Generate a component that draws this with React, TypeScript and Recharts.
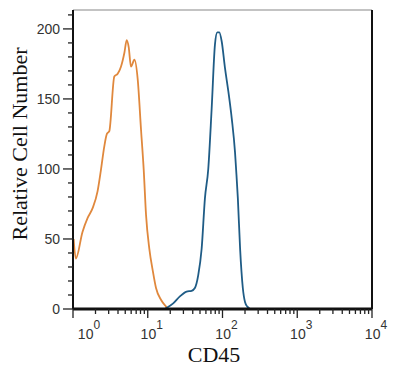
import { LineChart, Line, XAxis, YAxis, ReferenceLine } from "recharts";

// CD45 intensity (log scale) and counts
const controlX = [1.02, 1.09, 1.34, 1.57, 1.83, 2.13, 2.36, 2.62, 2.84, 3.06, 3.57, 3.96, 4.38, 4.87, 5.23, 5.56, 5.97, 6.63, 7.34, 8.13, 8.84, 9.49, 10.5, 11.7, 12.9, 15.1, 17.6, 18.6];
const controlY = [50, 36, 55, 65, 72, 84, 99, 116, 125, 127, 166, 168, 173, 183, 192, 187, 173, 178, 164, 128, 99, 67, 43, 27, 15, 6.4, 1.7, 0];

const cd45X = [16.9, 21.9, 26.9, 33.1, 38.6, 42.7, 47.3, 52.6, 58.2, 64.5, 71.6, 79.3, 85.2, 90.6, 97.6, 108, 120, 133, 147, 152, 160.5, 172, 187, 200, 215, 234];
const cd45Y = [0, 4, 9, 12.4, 13, 15, 24, 43, 79, 100, 143, 189, 197.5, 197.5, 191, 172, 155, 136, 112, 100, 79, 43, 15, 5, 1.7, 0];

const yTicks = [0, 10, 20, 30, 40, 50, 60, 70, 80, 90, 100, 110, 120, 130, 140, 150, 160, 170, 180, 190, 200, 210];
const decades = [1, 10, 100, 1000];

const xTicks: number[] = [];
decades.forEach((d) => {
  for (let m = 1; m < 10; m++) xTicks.push(d * m);
});
xTicks.push(10000);

const control = controlX.map((x, i) => ({ x, y: controlY[i] }));
const cd45 = cd45X.map((x, i) => ({ x, y: cd45Y[i] }));

const tickFont = "'Liberation Sans', Arial, sans-serif";
const titleFont = "'Liberation Serif', 'Times New Roman', serif";

function YTick({ x, y, payload }: any) {
  const major = payload.value % 50 === 0;
  return (
    <g>
      <line x1={x - (major ? 10 : 5)} x2={x} y1={y} y2={y} stroke="#222" strokeWidth={1.3} />
      {major && (
        <text x={x - 13} y={y} dy={5} textAnchor="end" fontSize={14} fill="#333" fontFamily={tickFont}>
          {payload.value}
        </text>
      )}
    </g>
  );
}

function XTick({ x, y, payload }: any) {
  const v = payload.value;
  const exp = Math.round(Math.log10(v));
  const major = Math.abs(Math.log10(v) - exp) < 1e-6;
  const shift = exp === 0 ? 16 : 4;
  return (
    <g>
      <line x1={x} x2={x} y1={y} y2={y + (major ? 9 : 5)} stroke="#222" strokeWidth={1.3} />
      {major && (
        <text x={x + shift} y={y + 30} textAnchor="middle" fontSize={14} fill="#333" fontFamily={tickFont}>
          10
          <tspan dy={-10} fontSize={12}>
            {exp}
          </tspan>
        </text>
      )}
    </g>
  );
}

export default function App() {
  return (
    <div style={{ position: "absolute", left: 0, top: 0, width: 400, height: 369, background: "#fff" }}>
      <LineChart width={400} height={369} margin={{ top: 10, right: 28, bottom: 0, left: 0 }}>
        <XAxis
          dataKey="x"
          type="number"
          scale="log"
          domain={[1, 10000]}
          ticks={xTicks}
          interval={0}
          allowDataOverflow
          height={60}
          tickSize={0}
          tickMargin={0}
          tickLine={false}
          axisLine={{ stroke: "#111", strokeWidth: 3 }}
          tick={<XTick />}
        />
        <YAxis
          type="number"
          domain={[0, 213.5]}
          ticks={yTicks}
          interval={0}
          allowDataOverflow
          width={73}
          tickSize={0}
          tickMargin={0}
          tickLine={false}
          axisLine={{ stroke: "#111", strokeWidth: 2 }}
          tick={<YTick />}
        />
        <ReferenceLine y={213.5} stroke="#888" strokeWidth={1.2} />
        <ReferenceLine x={10000} stroke="#111" strokeWidth={2} />
        <Line
          data={control}
          dataKey="y"
          type="monotone"
          stroke="#e0883d"
          strokeWidth={1.8}
          dot={false}
          isAnimationActive={false}
        />
        <Line
          data={cd45}
          dataKey="y"
          type="monotone"
          stroke="#1f5c86"
          strokeWidth={1.8}
          dot={false}
          isAnimationActive={false}
        />
      </LineChart>
      <div
        style={{
          position: "absolute",
          left: 20,
          top: 144,
          transform: "translate(-50%, -50%) rotate(-90deg)",
          whiteSpace: "nowrap",
          fontFamily: titleFont,
          fontSize: 22,
          lineHeight: 1,
          color: "#111",
        }}
      >
        Relative Cell Number
      </div>
      <div
        style={{
          position: "absolute",
          left: 214,
          top: 355,
          transform: "translate(-50%, -50%)",
          whiteSpace: "nowrap",
          fontFamily: titleFont,
          fontSize: 22,
          lineHeight: 1,
          color: "#111",
        }}
      >
        CD45
      </div>
    </div>
  );
}
